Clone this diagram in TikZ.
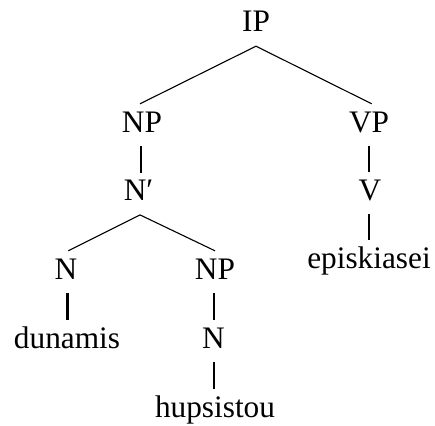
\documentclass[tikz,border=0pt]{standalone}
\usepackage{fontspec}
\setmainfont{Liberation Serif}
\begin{document}
\begin{tikzpicture}[x=1pt,y=-1pt,
  tn/.style={inner sep=0pt, anchor=base, text height=28pt, text depth=14pt,
             font=\fontsize{31.3}{36}\selectfont},
  edge/.style={line width=1.1pt},
  vedge/.style={line width=1.7pt},
  bedge/.style={line width=2.6pt}]
\useasboundingbox (0,0) rectangle (435,425);
\node[tn] (ip)   at (256,32)    {IP};
\node[tn] (np)   at (142,132)   {NP};
\node[tn] (vp)   at (369,132)   {VP};
\node[tn] (nbar) at (138.5,200.7) {N′};
\node[tn] (v)    at (370,200)   {V};
\node[tn] (n1)   at (66,279)    {N};
\node[tn] (np2)  at (215,279)   {NP};
\node[tn] (epi)  at (369,268)   {episkiasei};
\node[tn] (dun)  at (67,348)    {dunamis};
\node[tn] (n2)   at (213.5,348) {N};
\node[tn] (hup)  at (215,417)   {hupsistou};
\draw[edge] (ip.south) -- ([xshift=-2pt]np.north);
\draw[edge] (ip.south) -- ([xshift=2.7pt]vp.north);
\draw[vedge] ([xshift=-1.3pt]np.south) -- ([xshift=2.2pt]nbar.north);
\draw[vedge] ([xshift=0.3pt]vp.south) -- ([xshift=-0.7pt]v.north);
\draw[edge] ([xshift=1.5pt]nbar.south) -- ([xshift=2.3pt]n1.north);
\draw[edge] ([xshift=1.5pt]nbar.south) -- (np2.north);
\draw[vedge] ([xshift=-0.7pt]v.south) -- ([xshift=0.3pt]epi.north);
\draw[bedge] ([xshift=1.5pt]n1.south) -- ([xshift=0.5pt]dun.north);
\draw[vedge] ([xshift=-0.7pt]np2.south) -- ([xshift=0.8pt]n2.north);
\draw[vedge] ([xshift=0.8pt]n2.south) -- ([xshift=-0.7pt]hup.north);
\end{tikzpicture}
\end{document}
